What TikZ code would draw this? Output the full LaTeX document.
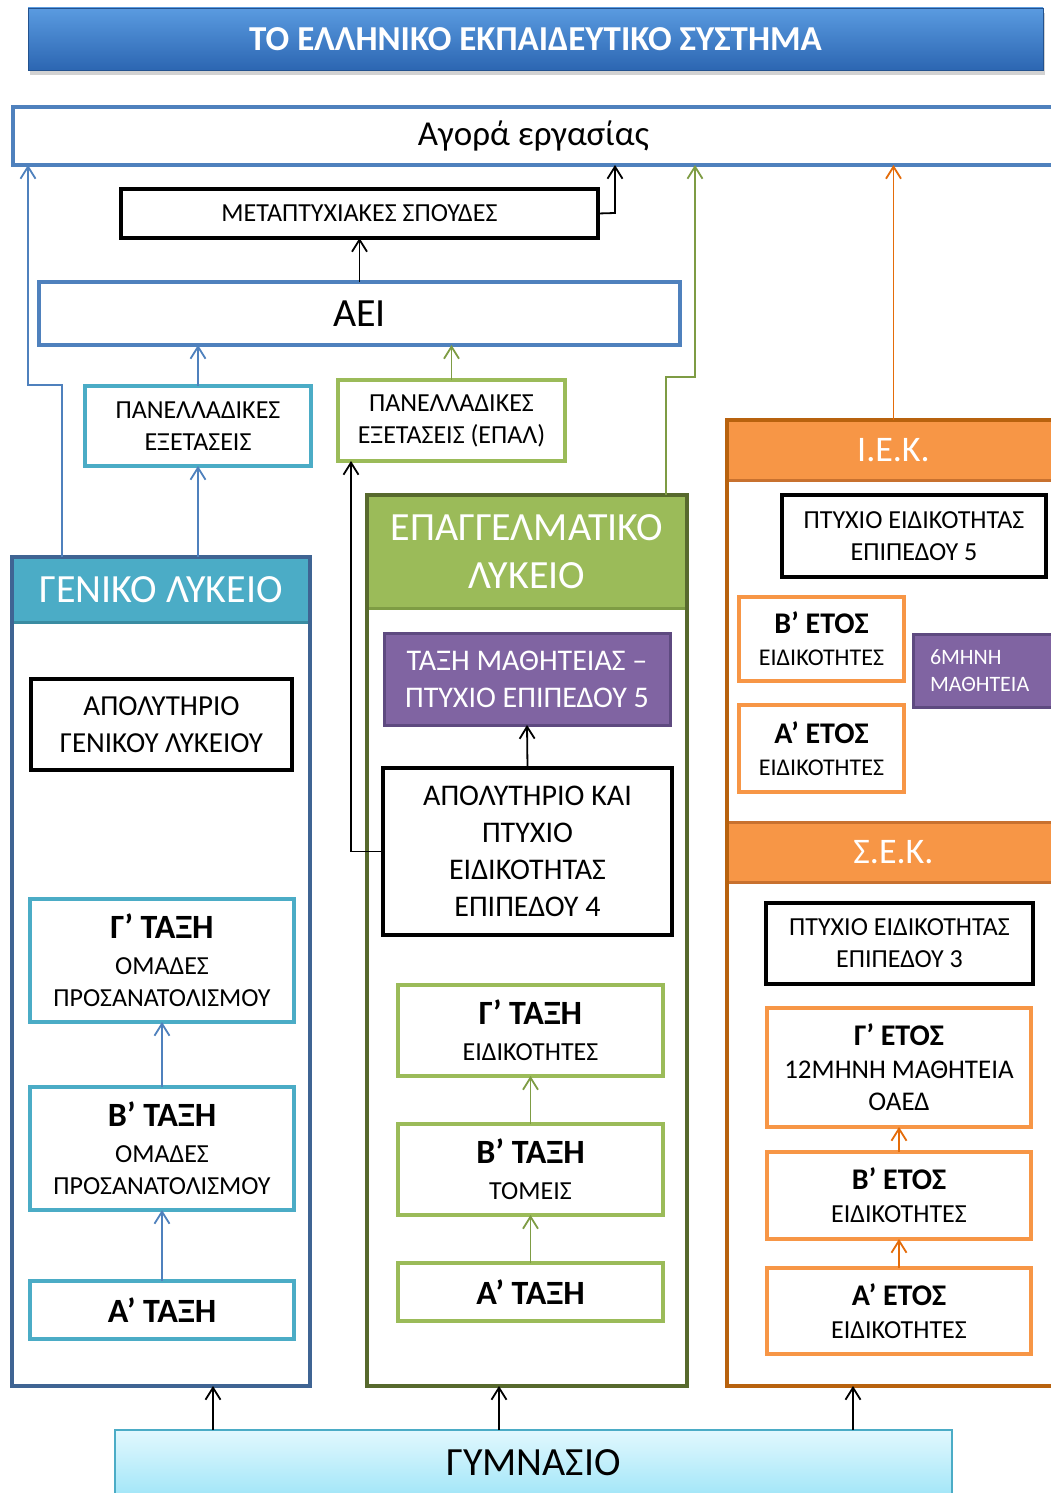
\documentclass[tikz,border=0pt]{standalone}
\usepackage{fontspec}
\setmainfont{Carlito}
\usetikzlibrary{arrows.meta,shadows}
\definecolor{blueb}{HTML}{4F81BD}
\definecolor{cyanc}{HTML}{4BACC6}
\definecolor{cyand}{HTML}{3A8CA2}
\definecolor{genb}{HTML}{3F6493}
\definecolor{greenc}{HTML}{9BBB59}
\definecolor{greend}{HTML}{7E9C44}
\definecolor{epalb}{HTML}{57692D}
\definecolor{orangec}{HTML}{F79646}
\definecolor{orangea}{HTML}{E46C0A}
\definecolor{oranged}{HTML}{B8620E}
\definecolor{orangeh}{HTML}{C8712F}
\definecolor{purplec}{HTML}{8064A2}
\definecolor{purpled}{HTML}{5E4A80}
\definecolor{titletop}{HTML}{5A9BE0}
\definecolor{titlebot}{HTML}{2C66B2}
\definecolor{gymtop}{HTML}{E2F8FE}
\definecolor{gymbot}{HTML}{A2E6F8}
\newcommand{\fsz}[2]{\fontsize{#1}{#2}\selectfont}
\tikzset{
  bx/.style={rectangle, inner sep=0pt, outer sep=0pt, align=center, text=black},
  kbox/.style={bx, draw=black, line width=3.5pt, fill=white},
  cbox/.style={bx, draw=cyanc, line width=3.5pt, fill=white},
  gbox/.style={bx, draw=greenc, line width=3.5pt, fill=white},
  obox/.style={bx, draw=orangec, line width=3.5pt, fill=white},
  pbox/.style={bx, draw=purpled, line width=3pt, fill=purplec, text=white},
  tip/.style={-{Straight Barb[length=12pt,width=15pt]}},
  karr/.style={draw=black, line width=1.8pt, tip},
  barr/.style={draw=blueb, line width=1.8pt, tip},
  garr/.style={draw=greend, line width=1.8pt, tip},
  oarr/.style={draw=orangea, line width=1.8pt, tip},
}
\begin{document}
\begin{tikzpicture}[x=1pt,y=-1pt]
\useasboundingbox (0,0) rectangle (1051,1493);
\clip (0,0) rectangle (1051,1493);
\fill[white] (0,0) rectangle (1051,1493);

% title
\node[bx, minimum width=1015pt, minimum height=62pt, top color=titletop, bottom color=titlebot,
  draw=titlebot!80!black, line width=0.8pt, text=white, font=\fsz{35}{40}\bfseries,
  drop shadow={shadow xshift=2pt, shadow yshift=-5pt, opacity=0.35}]
  (title) at (535.5,39) {ΤΟ ΕΛΛΗΝΙΚΟ ΕΚΠΑΙΔΕΥΤΙΚΟ ΣΥΣΤΗΜΑ};

% labour market
\node[bx, draw=blueb, line width=3.5pt, fill=white, minimum width=1041pt, minimum height=58pt,
  font=\fsz{35}{40}] (agora) at (533.5,136) {Αγορά εργασίας};

\node[kbox, minimum width=477pt, minimum height=49pt, font=\fsz{26}{30}] (meta) at (359.5,213.5)
  {ΜΕΤΑΠΤΥΧΙΑΚΕΣ ΣΠΟΥΔΕΣ};
\node[bx, draw=blueb, line width=3.5pt, fill=white, minimum width=641pt, minimum height=63pt,
  font=\fsz{40}{44}] (aei) at (359.5,313.5) {ΑΕΙ};

\node[cbox, minimum width=226pt, minimum height=80pt, font=\fsz{26}{32}] (pan1) at (198,426)
  {ΠΑΝΕΛΛΑΔΙΚΕΣ\\ΕΞΕΤΑΣΕΙΣ};
\node[gbox, minimum width=227pt, minimum height=81pt, font=\fsz{26}{32}] (pan2) at (451.5,420.5)
  {ΠΑΝΕΛΛΑΔΙΚΕΣ\\ΕΞΕΤΑΣΕΙΣ (ΕΠΑΛ)};

% ===== ΓΕΝΙΚΟ ΛΥΚΕΙΟ
\node[bx, fill=white, minimum width=298pt, minimum height=829pt] (gen) at (161,971.5) {};
\node[bx, fill=cyanc, minimum width=298pt, minimum height=65pt, text=white, font=\fsz{40}{44}]
  (genh) at (161,589.5) {ΓΕΝΙΚΟ ΛΥΚΕΙΟ};
\draw[cyand, line width=3pt] (genh.south west) -- (genh.south east);
\draw[genb, line width=3.5pt] (gen.north west) rectangle (gen.south east);

\node[kbox, minimum width=261pt, minimum height=91pt, font=\fsz{29}{37}] (apgen) at (161.5,724.5)
  {ΑΠΟΛΥΤΗΡΙΟ\\ΓΕΝΙΚΟΥ ΛΥΚΕΙΟΥ};
\node[cbox, minimum width=264pt, minimum height=123pt, font=\fsz{26}{32}] (g3) at (162,960.5)
  {{\fsz{34}{32}\bfseries Γ’ ΤΑΞΗ}\\[4pt]ΟΜΑΔΕΣ\\ΠΡΟΣΑΝΑΤΟΛΙΣΜΟΥ};
\node[cbox, minimum width=264pt, minimum height=123pt, font=\fsz{26}{32}] (g2) at (162,1148.5)
  {{\fsz{34}{32}\bfseries Β’ ΤΑΞΗ}\\[4pt]ΟΜΑΔΕΣ\\ΠΡΟΣΑΝΑΤΟΛΙΣΜΟΥ};
\node[cbox, minimum width=264pt, minimum height=58pt, font=\fsz{34}{36}\bfseries] (g1) at (162,1310)
  {Α’ ΤΑΞΗ};

% ===== ΕΠΑΓΓΕΛΜΑΤΙΚΟ ΛΥΚΕΙΟ
\node[bx, fill=white, minimum width=320pt, minimum height=891pt] (epal) at (527,940.5) {};
\node[bx, fill=greenc, minimum width=320pt, minimum height=113pt, text=white, font=\fsz{40}{48}]
  (epalh) at (527,551.5) {ΕΠΑΓΓΕΛΜΑΤΙΚΟ\\ΛΥΚΕΙΟ};
\draw[greend, line width=3pt] (epalh.south west) -- (epalh.south east);
\draw[epalb, line width=3.5pt] (epal.north west) rectangle (epal.south east);

\node[pbox, minimum width=286pt, minimum height=92pt, font=\fsz{30}{37}] (mth) at (527,679)
  {ΤΑΞΗ ΜΑΘΗΤΕΙΑΣ –\\ΠΤΥΧΙΟ ΕΠΙΠΕΔΟΥ 5};
\node[kbox, minimum width=289pt, minimum height=167pt, font=\fsz{30}{37}] (apk) at (527.5,851.5)
  {ΑΠΟΛΥΤΗΡΙΟ ΚΑΙ\\ΠΤΥΧΙΟ\\ΕΙΔΙΚΟΤΗΤΑΣ\\ΕΠΙΠΕΔΟΥ 4};
\node[gbox, minimum width=265pt, minimum height=91pt, font=\fsz{26}{32}] (e3) at (530.5,1030.5)
  {{\fsz{34}{32}\bfseries Γ’ ΤΑΞΗ}\\[4pt]ΕΙΔΙΚΟΤΗΤΕΣ};
\node[gbox, minimum width=265pt, minimum height=91pt, font=\fsz{26}{32}] (e2) at (530.5,1169.5)
  {{\fsz{34}{32}\bfseries Β’ ΤΑΞΗ}\\[4pt]ΤΟΜΕΙΣ};
\node[gbox, minimum width=265pt, minimum height=58pt, font=\fsz{34}{36}\bfseries] (e1) at (530.5,1292)
  {Α’ ΤΑΞΗ};

% ===== Ι.Ε.Κ. / Σ.Ε.Κ.
\node[bx, fill=white, minimum width=333pt, minimum height=966pt] (iek) at (893.5,903) {};
\node[bx, fill=orangec, minimum width=333pt, minimum height=60pt, text=white, font=\fsz{36}{40}]
  (iekh) at (893.5,450) {Ι.Ε.Κ.};
\node[bx, fill=orangec, minimum width=333pt, minimum height=60pt, text=white, font=\fsz{36}{40}]
  (sekh) at (893.5,852) {Σ.Ε.Κ.};
\draw[orangeh, line width=3pt] (iekh.south west) -- (iekh.south east);
\draw[orangeh, line width=3pt] (sekh.north west) -- (sekh.north east);
\draw[orangeh, line width=3pt] (sekh.south west) -- (sekh.south east);
\draw[oranged, line width=3.5pt] (iek.north west) rectangle (iek.south east);

\node[kbox, minimum width=264pt, minimum height=82pt, font=\fsz{26}{32}] (p5) at (914,536)
  {ΠΤΥΧΙΟ ΕΙΔΙΚΟΤΗΤΑΣ\\ΕΠΙΠΕΔΟΥ 5};
\node[obox, minimum width=165pt, minimum height=84pt, font=\fsz{24}{32}] (ib) at (821.5,639)
  {{\fsz{30}{32}\bfseries Β’ ΕΤΟΣ}\\ΕΙΔΙΚΟΤΗΤΕΣ};
\node[obox, minimum width=165pt, minimum height=87pt, font=\fsz{24}{32}] (ia) at (821.5,748.5)
  {{\fsz{30}{32}\bfseries Α’ ΕΤΟΣ}\\ΕΙΔΙΚΟΤΗΤΕΣ};
\node[pbox, minimum width=142pt, minimum height=73pt, align=left, text width=108pt,
  font=\fsz{22}{27}] (six) at (984,670.5) {6ΜΗΝΗ\\ΜΑΘΗΤΕΙΑ};

\node[kbox, minimum width=267pt, minimum height=81pt, font=\fsz{26}{32}] (p3) at (899.5,943.5)
  {ΠΤΥΧΙΟ ΕΙΔΙΚΟΤΗΤΑΣ\\ΕΠΙΠΕΔΟΥ 3};
\node[obox, minimum width=264pt, minimum height=119pt, font=\fsz{27}{32}] (s3) at (899,1067.5)
  {{\fsz{30}{32}\bfseries Γ’ ΕΤΟΣ}\\[1pt]12ΜΗΝΗ ΜΑΘΗΤΕΙΑ\\ΟΑΕΔ};
\node[obox, minimum width=264pt, minimum height=87pt, font=\fsz{26}{33}] (s2) at (899,1195.5)
  {{\fsz{30}{32}\bfseries Β’ ΕΤΟΣ}\\ΕΙΔΙΚΟΤΗΤΕΣ};
\node[obox, minimum width=264pt, minimum height=86pt, font=\fsz{26}{33}] (s1) at (899,1311)
  {{\fsz{30}{32}\bfseries Α’ ΕΤΟΣ}\\ΕΙΔΙΚΟΤΗΤΕΣ};

% ===== ΓΥΜΝΑΣΙΟ
\node[bx, minimum width=837pt, minimum height=66pt, top color=gymtop, bottom color=gymbot,
  draw=cyanc, line width=1.5pt, font=\fsz{40}{44}] (gym) at (533.5,1463) {ΓΥΜΝΑΣΙΟ};

% ===== connectors
\coordinate (c615) at (615,213);
\draw[karr] (meta.east) -- (c615) -- (c615 |- agora.south);
\draw[karr] (aei.north) -- (meta.south);

\coordinate (b62) at (62,385);
\coordinate (b28) at (28,385);
\draw[barr] (genh.north -| b62) -- (b62) -- (b28) -- (b28 |- agora.south);
\draw[barr] (pan1.north) -- (pan1.north |- aei.south);
\draw[barr] (pan1.south |- genh.north) -- (pan1.south);

\coordinate (v666) at (666,377);
\coordinate (v695) at (695,377);
\draw[garr] (v666 |- epalh.north) -- (v666) -- (v695) -- (v695 |- agora.south);
\draw[garr] (pan2.north) -- (pan2.north |- aei.south);

\coordinate (k351) at (351,851.5);
\draw[karr] (apk.west) -- (k351) -- (k351 |- pan2.south);

\draw[oarr] (iekh.north) -- (iekh.north |- agora.south);

\draw[barr] (g2.north) -- (g3.south);
\draw[barr] (g1.north) -- (g2.south);
\draw[karr] (apk.north) -- (mth.south);
\draw[garr] (e2.north) -- (e3.south);
\draw[garr] (e1.north) -- (e2.south);
\draw[oarr] (s2.north) -- (s3.south);
\draw[oarr] (s1.north) -- (s2.south);

\coordinate (x213) at (213,0);
\coordinate (x499) at (499,0);
\coordinate (x853) at (853,0);
\draw[karr] (gym.north -| x213) -- (gen.south -| x213);
\draw[karr] (gym.north -| x499) -- (epal.south -| x499);
\draw[karr] (gym.north -| x853) -- (iek.south -| x853);
\end{tikzpicture}
\end{document}
